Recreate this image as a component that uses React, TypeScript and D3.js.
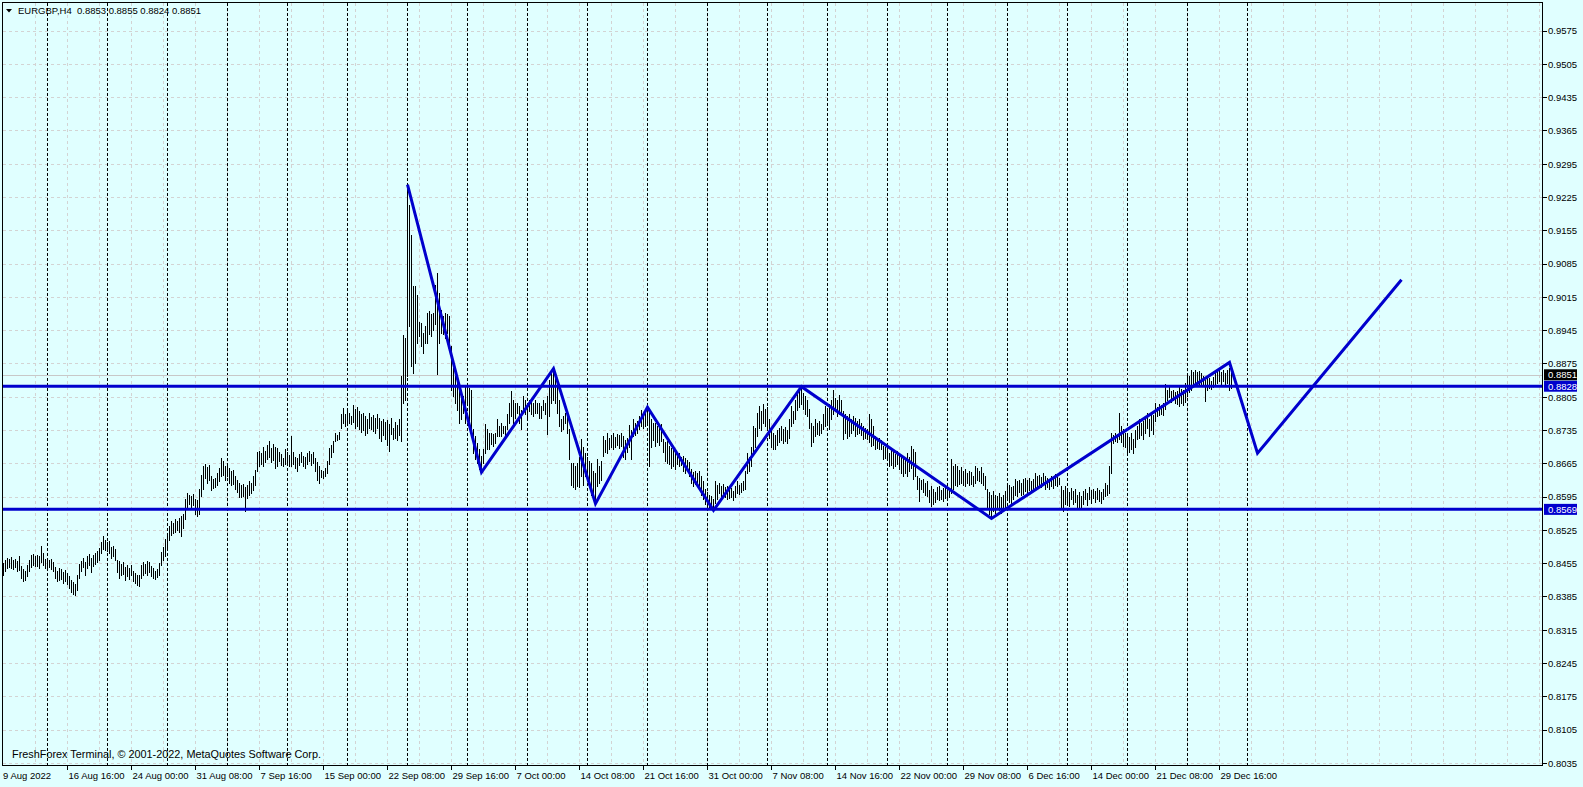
import React from "react";
import * as d3 from "d3";

const W = 1583;
const H = 787;
const FRAME = { left: 2.5, top: 2.5, right: 1542.5, bottom: 765.5 };

// EURGBP H4 bar highs / lows in pips (price * 10000), bar index 1..615
const barHighs = [
  8457,8462,8466,8464,8468,8462,8465,8460,8470,8450,
  8444,8440,8452,8462,8472,8476,8470,8474,8470,8493,
  8478,8464,8466,8462,8464,8458,8448,8440,8446,8444,
  8438,8442,8436,8428,8420,8416,8412,8430,8455,8460,
  8466,8458,8470,8475,8466,8472,8478,8482,8488,8500,
  8513,8505,8500,8502,8490,8492,8486,8462,8460,8455,
  8458,8448,8452,8446,8452,8440,8436,8430,8432,8452,
  8458,8455,8460,8458,8450,8446,8440,8443,8456,8480,
  8490,8506,8520,8535,8545,8540,8548,8545,8550,8555,
  8560,8590,8604,8600,8598,8602,8590,8588,8612,8642,
  8660,8664,8658,8662,8640,8632,8636,8645,8655,8678,
  8670,8660,8665,8655,8650,8652,8640,8630,8625,8620,
  8622,8615,8620,8628,8625,8640,8652,8690,8692,8688,
  8700,8692,8705,8712,8698,8706,8700,8698,8690,8685,
  8678,8695,8690,8684,8724,8690,8680,8676,8686,8690,
  8682,8680,8688,8692,8686,8690,8678,8668,8660,8652,
  8650,8656,8670,8698,8705,8712,8730,8726,8732,8770,
  8782,8770,8779,8772,8766,8789,8780,8784,8776,8770,
  8772,8766,8760,8772,8764,8768,8762,8770,8762,8755,
  8760,8752,8756,8748,8762,8740,8752,8746,8758,8849,
  8936,8930,9252,9210,9146,9038,9038,9020,8964,8961,
  8940,8954,8982,8986,8979,8982,9041,9066,9024,8989,
  8975,8982,8979,8975,8912,8867,8849,8835,8835,8821,
  8807,8828,8835,8825,8821,8737,8723,8709,8695,8681,
  8695,8748,8737,8730,8730,8727,8730,8758,8744,8751,
  8744,8744,8769,8793,8818,8800,8793,8793,8786,8779,
  8807,8800,8793,8800,8797,8793,8800,8793,8793,8786,
  8800,8793,8807,8842,8863,8865,8849,8828,8800,8758,
  8765,8772,8765,8737,8667,8667,8660,8667,8680,8716,
  8700,8688,8680,8670,8667,8650,8646,8674,8660,8670,
  8723,8715,8730,8720,8725,8730,8722,8728,8725,8730,
  8723,8715,8720,8747,8735,8758,8750,8755,8765,8779,
  8770,8775,8786,8779,8758,8750,8751,8745,8740,8748,
  8716,8710,8712,8702,8698,8700,8688,8685,8688,8680,
  8681,8676,8672,8668,8653,8648,8650,8645,8650,8640,
  8628,8611,8605,8600,8598,8590,8628,8620,8625,8618,
  8622,8615,8618,8610,8614,8608,8618,8628,8620,8625,
  8628,8650,8688,8680,8700,8744,8740,8772,8786,8775,
  8790,8780,8785,8760,8737,8730,8725,8735,8740,8744,
  8738,8742,8735,8760,8786,8775,8800,8815,8822,8828,
  8814,8808,8800,8780,8751,8745,8758,8750,8755,8748,
  8770,8786,8780,8790,8800,8821,8804,8800,8810,8798,
  8776,8770,8765,8769,8760,8766,8762,8755,8758,8750,
  8744,8740,8738,8769,8760,8745,8723,8718,8720,8715,
  8702,8700,8695,8688,8698,8690,8685,8692,8688,8684,
  8680,8676,8688,8680,8702,8695,8690,8639,8635,8630,
  8632,8625,8628,8610,8618,8612,8606,8615,8618,8610,
  8614,8618,8608,8612,8674,8660,8665,8660,8652,8658,
  8650,8653,8645,8650,8648,8640,8660,8655,8650,8658,
  8646,8640,8611,8605,8600,8607,8600,8598,8604,8595,
  8600,8607,8625,8620,8615,8618,8632,8628,8630,8625,
  8632,8636,8630,8634,8628,8632,8646,8640,8642,8638,
  8646,8639,8635,8630,8639,8632,8643,8638,8636,8618,
  8610,8618,8612,8606,8614,8608,8611,8600,8605,8598,
  8608,8611,8604,8615,8610,8612,8608,8614,8610,8605,
  8612,8625,8620,8660,8730,8725,8730,8728,8772,8744,
  8738,8730,8725,8722,8730,8718,8735,8745,8758,8750,
  8755,8765,8772,8760,8770,8768,8793,8785,8790,8788,
  8792,8832,8820,8826,8818,8821,8815,8818,8828,8822,
  8820,8835,8856,8850,8862,8858,8863,8858,8860,8855,
  8850,8842,8849,8845,8840,8848,8855,8860,8863,8858,
  8862,8855,8863,8866,8855,
];

const barLows = [
  8432,8440,8445,8448,8446,8444,8447,8440,8442,8425,
  8418,8420,8428,8440,8448,8452,8450,8450,8446,8458,
  8452,8445,8443,8447,8443,8440,8425,8418,8420,8422,
  8415,8418,8412,8404,8395,8392,8388,8400,8425,8440,
  8448,8430,8445,8452,8438,8450,8455,8458,8462,8478,
  8485,8483,8482,8478,8466,8470,8462,8438,8425,8430,
  8434,8420,8428,8422,8430,8418,8414,8410,8408,8425,
  8430,8436,8432,8438,8428,8425,8422,8426,8430,8452,
  8462,8470,8490,8505,8515,8520,8522,8525,8522,8512,
  8530,8548,8570,8580,8572,8578,8560,8555,8560,8598,
  8612,8635,8625,8630,8610,8614,8616,8620,8628,8640,
  8642,8630,8640,8625,8620,8622,8612,8605,8596,8594,
  8598,8566,8592,8600,8603,8610,8620,8650,8660,8665,
  8660,8668,8675,8680,8668,8672,8655,8660,8670,8662,
  8660,8665,8668,8660,8660,8665,8655,8650,8662,8668,
  8660,8655,8664,8670,8662,8666,8650,8630,8625,8638,
  8636,8640,8645,8665,8680,8690,8712,8714,8718,8740,
  8750,8744,8752,8750,8748,8752,8740,8745,8738,8732,
  8736,8726,8730,8740,8738,8734,8730,8740,8720,8712,
  8725,8718,8705,8692,8728,8716,8720,8715,8725,8713,
  8793,8800,8849,8954,8870,8856,8877,8919,8933,8912,
  8898,8919,8919,8937,8933,8947,8958,8853,8919,8940,
  8937,8930,8940,8912,8821,8807,8793,8779,8751,8758,
  8772,8751,8793,8755,8723,8688,8674,8667,8653,8646,
  8667,8688,8695,8695,8706,8702,8709,8723,8723,8723,
  8730,8723,8737,8751,8765,8751,8762,8772,8751,8737,
  8772,8769,8758,8776,8769,8765,8772,8772,8762,8762,
  8779,8769,8727,8765,8793,8800,8793,8772,8744,8734,
  8737,8751,8730,8674,8620,8615,8612,8618,8615,8640,
  8620,8640,8632,8620,8600,8597,8580,8618,8625,8630,
  8681,8690,8688,8695,8700,8695,8700,8705,8698,8702,
  8680,8674,8690,8700,8674,8723,8725,8730,8737,8745,
  8740,8745,8751,8660,8700,8715,8702,8710,8705,8712,
  8690,8670,8667,8665,8655,8660,8653,8665,8660,8662,
  8650,8646,8650,8640,8625,8618,8622,8620,8612,8600,
  8590,8580,8575,8573,8576,8570,8583,8590,8604,8598,
  8604,8596,8590,8592,8594,8588,8596,8604,8602,8606,
  8610,8612,8646,8650,8660,8688,8700,8723,8740,8735,
  8750,8745,8741,8720,8700,8695,8697,8705,8710,8715,
  8709,8712,8709,8720,8744,8750,8760,8779,8785,8790,
  8780,8770,8765,8740,8702,8710,8723,8728,8725,8730,
  8737,8745,8750,8737,8760,8770,8775,8765,8770,8768,
  8716,8730,8720,8723,8730,8735,8723,8728,8730,8725,
  8716,8720,8716,8710,8702,8705,8695,8698,8696,8695,
  8674,8678,8674,8660,8662,8655,8660,8665,8653,8645,
  8640,8645,8639,8650,8655,8632,8640,8611,8587,8612,
  8605,8600,8597,8585,8576,8580,8584,8590,8588,8590,
  8587,8592,8590,8595,8604,8612,8620,8618,8622,8625,
  8620,8618,8625,8620,8622,8618,8625,8630,8628,8625,
  8620,8612,8570,8560,8555,8565,8562,8570,8568,8562,
  8566,8575,8590,8585,8583,8590,8600,8597,8605,8600,
  8602,8608,8604,8610,8605,8608,8615,8611,8618,8615,
  8620,8612,8615,8611,8618,8614,8620,8618,8622,8575,
  8566,8580,8585,8576,8590,8580,8585,8572,8569,8575,
  8580,8590,8578,8590,8583,8592,8585,8590,8586,8583,
  8590,8597,8600,8604,8646,8709,8712,8710,8716,8710,
  8702,8700,8688,8690,8695,8688,8700,8716,8720,8725,
  8718,8730,8740,8723,8735,8728,8755,8765,8768,8770,
  8768,8780,8800,8805,8795,8800,8793,8790,8786,8792,
  8788,8795,8807,8815,8820,8828,8830,8835,8830,8832,
  8828,8796,8821,8825,8822,8826,8830,8835,8838,8832,
  8840,8828,8835,8820,8824,
];

// Zigzag trend line (bar index, price)
const zigzagBars = [203, 240, 276, 297, 323, 356, 400, 495, 614, 628, 700];
const zigzagPrices = [0.9252, 0.8647, 0.8865, 0.8581, 0.8784, 0.8567, 0.8827, 0.855, 0.8878, 0.8687, 0.9052];

// Horizontal levels
const levelPrices = [0.8828, 0.8569];
const levelLabels = ["0.8828", "0.8569"];
const bidPrice = 0.8851;
const bidLabel = "0.8851";

const headerText = "EURGBP,H4  0.8853 0.8855 0.8824 0.8851";
const watermarkText = "FreshForex Terminal, \u00A9 2001-2022, MetaQuotes Software Corp.";

const priceTickLabels = [
  "0.9575","0.9505","0.9435","0.9365","0.9295","0.9225","0.9155","0.9085",
  "0.9015","0.8945","0.8875","0.8805","0.8735","0.8665","0.8595","0.8525",
  "0.8455","0.8385","0.8315","0.8245","0.8175","0.8105","0.8035",
];

const dateLabels = [
  "9 Aug 2022","16 Aug 16:00","24 Aug 00:00","31 Aug 08:00","7 Sep 16:00",
  "15 Sep 00:00","22 Sep 08:00","29 Sep 16:00","7 Oct 00:00","14 Oct 08:00",
  "21 Oct 16:00","31 Oct 00:00","7 Nov 08:00","14 Nov 16:00","22 Nov 00:00",
  "29 Nov 08:00","6 Dec 16:00","14 Dec 00:00","21 Dec 08:00","29 Dec 16:00",
];
const dateLabelBars = [1,33,65,97,129,161,193,225,257,289,321,353,385,417,449,481,513,545,577,609];
const weekSeparatorBars = [23,53,83,113,143,173,203,233,263,293,323,353,383,413,443,473,503,533,563,593,623];

const BG = "#E0FFFF";
const GRID = "#D3D3D3";
const BLUE = "#0000CD";
const FONT = "'Liberation Sans', Arial, sans-serif";

export default function App() {
  const x = d3.scaleLinear().domain([0, 1]).range([1.5, 3.5]);
  const y = d3.scaleLinear().domain([0.8035, 0.9575]).range([763.3, 31]);

  const crisp = (v: number) => Math.floor(v) + 0.5;

  const gridBars = d3.range(17, 800, 16).filter((b) => x(b) < FRAME.right - 1);

  const barPath = barHighs
    .map((h, k) => {
      const bx = x(k + 1);
      const y1 = Math.round(y(h / 10000));
      const y2 = Math.round(y(barLows[k] / 10000)) + 1;
      return `M${bx},${y1}V${y2}`;
    })
    .join("");

  const zz = d3
    .line<number>()
    .x((_, k) => x(zigzagBars[k]))
    .y((p) => y(p));

  return (
    <svg
      width={W}
      height={H}
      style={{ position: "absolute", left: 0, top: 0, background: BG }}
      fontFamily={FONT}
    >
      <defs>
        <clipPath id="plotClip">
          <rect x={FRAME.left} y={FRAME.top} width={FRAME.right - FRAME.left} height={FRAME.bottom - FRAME.top} />
        </clipPath>
      </defs>
      <rect x={0} y={0} width={W} height={H} fill={BG} />

      <g clipPath="url(#plotClip)">
        {/* horizontal grid */}
        {priceTickLabels.map((t) => (
          <line
            key={"hg" + t}
            x1={FRAME.left}
            x2={FRAME.right}
            y1={crisp(y(+t))}
            y2={crisp(y(+t))}
            stroke={GRID}
            strokeDasharray="3,3"
            shapeRendering="crispEdges"
          />
        ))}
        {/* vertical grid */}
        {gridBars.map((b) => (
          <line
            key={"vg" + b}
            x1={x(b)}
            x2={x(b)}
            y1={FRAME.top}
            y2={FRAME.bottom}
            stroke={GRID}
            strokeDasharray="3,3"
            shapeRendering="crispEdges"
          />
        ))}

        {/* watermark */}
        <text x={12} y={757.5} fontSize={10.5} fill="#000" textLength={309} lengthAdjust="spacingAndGlyphs">
          {watermarkText}
        </text>

        {/* weekly separators */}
        {weekSeparatorBars.map((b) => (
          <line
            key={"ws" + b}
            x1={x(b)}
            x2={x(b)}
            y1={FRAME.top}
            y2={FRAME.bottom}
            stroke="#000"
            strokeDasharray="3,2"
            shapeRendering="crispEdges"
          />
        ))}

        {/* bid line */}
        <line
          x1={FRAME.left}
          x2={FRAME.right}
          y1={crisp(y(bidPrice))}
          y2={crisp(y(bidPrice))}
          stroke="#C8C8C8"
          shapeRendering="crispEdges"
        />

        {/* OHLC bars */}
        <path d={barPath} stroke="#000" strokeWidth={1} fill="none" shapeRendering="crispEdges" />

        {/* horizontal levels */}
        {levelPrices.map((p) => (
          <line key={"lv" + p} x1={FRAME.left} x2={FRAME.right} y1={y(p)} y2={y(p)} stroke={BLUE} strokeWidth={3} />
        ))}

        {/* zigzag */}
        <path d={zz(zigzagPrices) || ""} stroke={BLUE} strokeWidth={3} fill="none" />
      </g>

      {/* frame */}
      <rect
        x={FRAME.left}
        y={FRAME.top}
        width={FRAME.right - FRAME.left}
        height={FRAME.bottom - FRAME.top}
        fill="none"
        stroke="#000"
        shapeRendering="crispEdges"
      />

      {/* header */}
      <path d="M6,9L12,9L9,12.5Z" fill="#000" />
      <text x={18} y={14.4} fontSize={9.5} fill="#000" style={{ whiteSpace: "pre" }} xmlSpace="preserve">
        {headerText}
      </text>

      {/* price axis */}
      {priceTickLabels.map((t) => {
        const yy = y(+t);
        return (
          <g key={"pt" + t}>
            <line x1={FRAME.right} x2={FRAME.right + 4} y1={crisp(yy)} y2={crisp(yy)} stroke="#000" shapeRendering="crispEdges" />
            <text x={1548} y={yy + 3.4} fontSize={9.5} fill="#000">
              {t}
            </text>
          </g>
        );
      })}

      {/* level labels */}
      {levelPrices.map((p, k) => (
        <g key={"ll" + p}>
          <rect x={1544} y={y(p) - 5.5} width={33} height={11} fill={BLUE} />
          <text x={1548} y={y(p) + 3.4} fontSize={9.5} fill="#fff">
            {levelLabels[k]}
          </text>
        </g>
      ))}
      <rect x={1544} y={y(bidPrice) - 6} width={33} height={11} fill="#000" />
      <text x={1548} y={y(bidPrice) + 3} fontSize={9.5} fill="#fff">
        {bidLabel}
      </text>

      {/* time axis */}
      {dateLabels.map((lab, k) => {
        const bx = k === 0 ? 2 : x(dateLabelBars[k]);
        return (
          <g key={"dl" + lab}>
            {k > 0 && (
              <line x1={bx} x2={bx} y1={FRAME.bottom} y2={FRAME.bottom + 4} stroke="#000" shapeRendering="crispEdges" />
            )}
            <text x={bx + 1} y={778.5} fontSize={9.5} fill="#000">
              {lab}
            </text>
          </g>
        );
      })}
    </svg>
  );
}
